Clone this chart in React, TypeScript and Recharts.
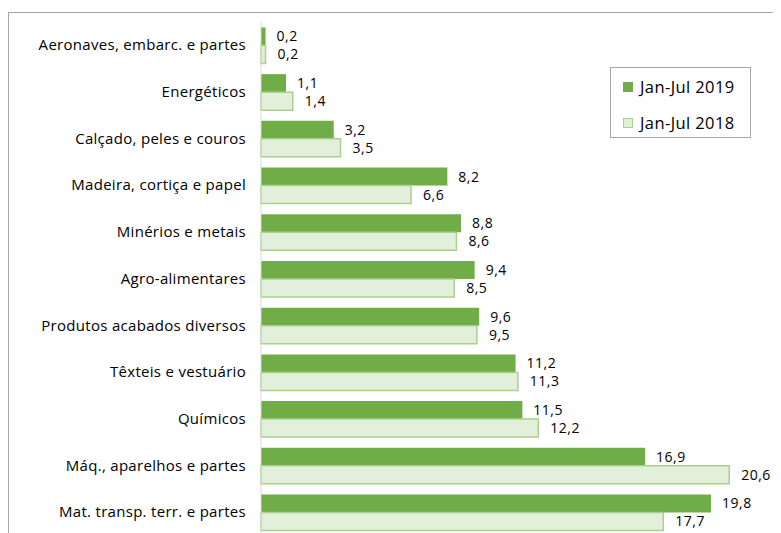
import React from "react";
import { BarChart, Bar, XAxis, YAxis, LabelList } from "recharts";

const categories = [
  "Aeronaves, embarc. e partes",
  "Energéticos",
  "Calçado, peles e couros",
  "Madeira, cortiça e papel",
  "Minérios e metais",
  "Agro-alimentares",
  "Produtos acabados diversos",
  "Têxteis e vestuário",
  "Químicos",
  "Máq., aparelhos e partes",
  "Mat. transp. terr. e partes",
];
const jan2019 = [0.2, 1.1, 3.2, 8.2, 8.8, 9.4, 9.6, 11.2, 11.5, 16.9, 19.8];
const jan2018 = [0.2, 1.4, 3.5, 6.6, 8.6, 8.5, 9.5, 11.3, 12.2, 20.6, 17.7];
const seriesNames = ["Jan-Jul 2019", "Jan-Jul 2018"];

const data = categories.map((name, i) => ({ name, y2019: jan2019[i], y2018: jan2018[i] }));

const FONT = "'Open Sans', sans-serif";
const DARK = "#70ad47";
const LIGHT = "#e2efda";
const LIGHT_EDGE = "#a9d18e";

const fmt = (v: number) => v.toFixed(1).replace(".", ",");

function LegendBox() {
  const items = [
    { label: seriesNames[0], fill: DARK, stroke: DARK },
    { label: seriesNames[1], fill: LIGHT, stroke: LIGHT_EDGE },
  ];
  return (
    <div
      style={{
        position: "absolute",
        left: 601,
        top: 54,
        width: 141,
        height: 71,
        border: "1px solid #a6a6a6",
        background: "#fff",
        fontFamily: FONT,
        fontSize: 16.5,
        letterSpacing: 0.4,
        color: "#000",
        boxSizing: "border-box",
        padding: "4px 0 0 12px",
      }}
    >
      {items.map((it) => (
        <div key={it.label} style={{ display: "flex", alignItems: "center", height: 29, marginBottom: 7 }}>
          <span
            style={{
              display: "inline-block",
              width: 10,
              height: 10,
              background: it.fill,
              border: `1px solid ${it.stroke}`,
              marginRight: 7,
              boxSizing: "border-box",
            }}
          />
          {it.label}
        </div>
      ))}
    </div>
  );
}

export default function App() {
  return (
    <div
      style={{
        marginTop: 4,
        width: 820,
        height: 560,
        borderTop: "1px solid #a6a6a6",
        borderLeft: "1px solid #a6a6a6",
        position: "relative",
      }}
    >
      <BarChart
        width={800}
        height={560}
        data={data}
        layout="vertical"
        margin={{ top: 8.6, right: 48, bottom: 37.6, left: 0 }}
        barCategoryGap="12.5%"
        barGap={0}
      >
        <XAxis type="number" domain={[0, 22]} hide />
        <YAxis
          type="category"
          dataKey="name"
          width={252}
          axisLine={{ stroke: "#d9d9d9" }}
          tickLine={false}
          tickSize={0}
          tickMargin={15}
          tick={{ fill: "#000", fontSize: 15, fontFamily: FONT, letterSpacing: 0.3 }}
          interval={0}
        />
        <Bar dataKey="y2019" name={seriesNames[0]} fill={DARK} isAnimationActive={false}>
          <LabelList
            dataKey="y2019"
            position="right"
            offset={11}
            formatter={(v: any) => fmt(Number(v))}
            style={{ fill: "#000", fontSize: 14, fontFamily: FONT, letterSpacing: 0.5 }}
          />
        </Bar>
        <Bar dataKey="y2018" name={seriesNames[1]} fill={LIGHT} stroke={LIGHT_EDGE} strokeWidth={1.5} isAnimationActive={false}>
          <LabelList
            dataKey="y2018"
            position="right"
            offset={12}
            formatter={(v: any) => fmt(Number(v))}
            style={{ fill: "#000", fontSize: 14, fontFamily: FONT, letterSpacing: 0.5 }}
          />
        </Bar>
      </BarChart>
      <LegendBox />
    </div>
  );
}
